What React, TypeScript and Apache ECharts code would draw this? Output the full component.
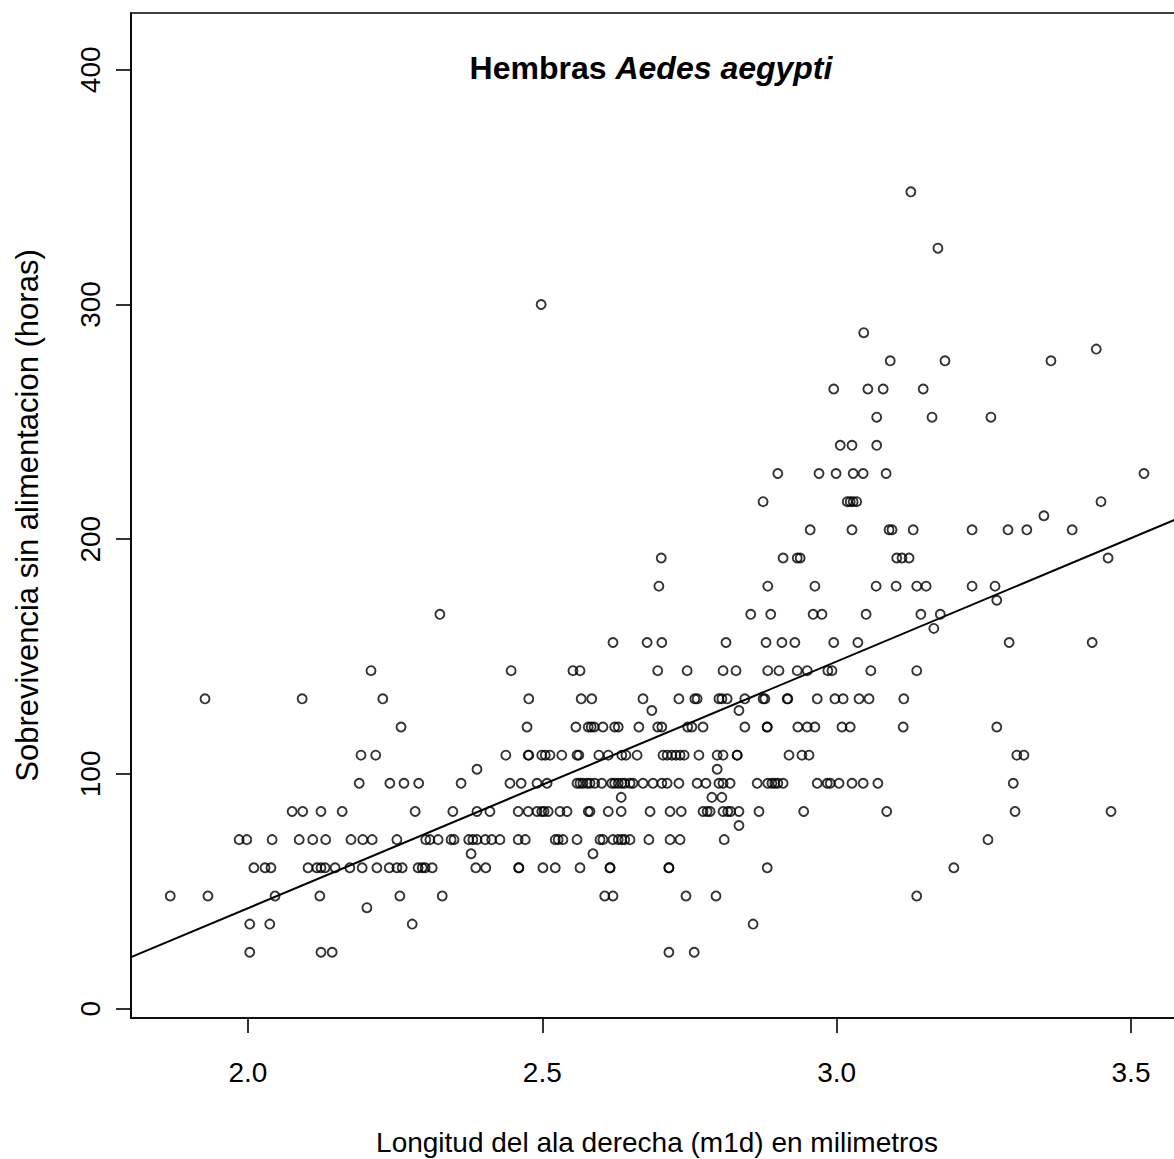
import React, { useEffect, useRef } from "react";
import * as echarts from "echarts";

// Tick labels
const xTicks = [2.0, 2.5, 3.0, 3.5];
const yTicks = [0, 100, 200, 300, 400];

// Wing length (mm) of each female, grouped by survival time without food (hours)
const wingAt24 = [2.003, 2.124, 2.143, 2.715, 2.758];
const wingAt36 = [2.003, 2.037, 2.279, 2.858];
const wingAt43 = [2.202];
const wingAt48 = [1.868, 1.932, 2.046, 2.122, 2.258, 2.33, 2.606, 2.62, 2.744, 2.795, 3.136];
const wingAt60 = [2.01, 2.029, 2.039, 2.102, 2.117, 2.124, 2.131, 2.148, 2.173, 2.194, 2.219, 2.24, 2.253, 2.262, 2.289, 2.296, 2.301, 2.313, 2.387, 2.404, 2.46, 2.46, 2.501, 2.522, 2.564, 2.615, 2.615, 2.715, 2.715, 2.882, 3.199];
const wingAt66 = [2.379, 2.586];
const wingAt72 = [1.985, 1.998, 2.041, 2.087, 2.11, 2.132, 2.175, 2.195, 2.211, 2.253, 2.302, 2.309, 2.323, 2.345, 2.35, 2.375, 2.382, 2.389, 2.403, 2.414, 2.428, 2.459, 2.471, 2.522, 2.527, 2.535, 2.559, 2.598, 2.603, 2.62, 2.629, 2.635, 2.64, 2.649, 2.681, 2.717, 2.734, 2.809, 3.257];
const wingAt78 = [2.834];
const wingAt84 = [2.075, 2.093, 2.124, 2.16, 2.284, 2.348, 2.389, 2.411, 2.459, 2.476, 2.491, 2.499, 2.503, 2.51, 2.53, 2.542, 2.578, 2.581, 2.612, 2.634, 2.683, 2.717, 2.736, 2.773, 2.78, 2.785, 2.807, 2.815, 2.82, 2.834, 2.868, 2.944, 3.085, 3.303, 3.466];
const wingAt90 = [2.634, 2.788, 2.805];
const wingAt96 = [2.189, 2.241, 2.265, 2.29, 2.362, 2.445, 2.464, 2.491, 2.508, 2.559, 2.564, 2.569, 2.576, 2.581, 2.589, 2.601, 2.618, 2.623, 2.629, 2.635, 2.64, 2.649, 2.654, 2.671, 2.688, 2.703, 2.712, 2.732, 2.763, 2.778, 2.8, 2.807, 2.819, 2.865, 2.883, 2.89, 2.895, 2.9, 2.909, 2.967, 2.984, 2.989, 3.004, 3.026, 3.045, 3.07, 3.3];
const wingAt102 = [2.389, 2.797];
const wingAt108 = [2.192, 2.217, 2.438, 2.476, 2.477, 2.499, 2.505, 2.513, 2.533, 2.559, 2.562, 2.596, 2.612, 2.635, 2.642, 2.661, 2.705, 2.712, 2.72, 2.727, 2.734, 2.741, 2.766, 2.797, 2.807, 2.831, 2.831, 2.919, 2.941, 2.953, 3.306, 3.318];
const wingAt120 = [2.26, 2.474, 2.557, 2.578, 2.583, 2.588, 2.603, 2.623, 2.629, 2.664, 2.696, 2.703, 2.747, 2.754, 2.773, 2.844, 2.882, 2.882, 2.934, 2.95, 2.963, 3.009, 3.023, 3.113, 3.272];
const wingAt127 = [2.686, 2.834];
const wingAt132 = [1.927, 2.092, 2.229, 2.477, 2.566, 2.584, 2.671, 2.732, 2.759, 2.763, 2.8, 2.805, 2.814, 2.844, 2.875, 2.878, 2.916, 2.917, 2.967, 2.997, 3.011, 3.038, 3.055, 3.114];
const wingAt144 = [2.209, 2.447, 2.552, 2.564, 2.696, 2.746, 2.807, 2.829, 2.883, 2.902, 2.933, 2.95, 2.985, 2.992, 3.058, 3.136];
const wingAt156 = [2.62, 2.678, 2.703, 2.812, 2.88, 2.907, 2.929, 2.995, 3.036, 3.293, 3.434];
const wingAt162 = [3.165];
const wingAt168 = [2.326, 2.854, 2.888, 2.96, 2.975, 3.05, 3.143, 3.176];
const wingAt174 = [3.272];
const wingAt180 = [2.698, 2.883, 2.963, 3.067, 3.101, 3.136, 3.152, 3.23, 3.269];
const wingAt192 = [2.702, 2.909, 2.933, 2.938, 3.102, 3.111, 3.123, 3.461];
const wingAt204 = [2.955, 3.026, 3.089, 3.094, 3.13, 3.23, 3.291, 3.323, 3.4];
const wingAt210 = [3.352];
const wingAt216 = [2.875, 3.018, 3.023, 3.028, 3.034, 3.449];
const wingAt228 = [2.9, 2.97, 2.999, 3.028, 3.045, 3.084, 3.522];
const wingAt240 = [3.006, 3.026, 3.068];
const wingAt252 = [3.068, 3.162, 3.262];
const wingAt264 = [2.995, 3.053, 3.079, 3.147];
const wingAt276 = [3.091, 3.184, 3.364];
const wingAt281 = [3.441];
const wingAt288 = [3.046];
const wingAt300 = [2.498];
const wingAt324 = [3.172];
const wingAt348 = [3.126];

const survivalGroups: [number, number[]][] = [
  [24, wingAt24], [36, wingAt36], [43, wingAt43], [48, wingAt48], [60, wingAt60],
  [66, wingAt66], [72, wingAt72], [78, wingAt78], [84, wingAt84], [90, wingAt90],
  [96, wingAt96], [102, wingAt102], [108, wingAt108], [120, wingAt120], [127, wingAt127],
  [132, wingAt132], [144, wingAt144], [156, wingAt156], [162, wingAt162], [168, wingAt168],
  [174, wingAt174], [180, wingAt180], [192, wingAt192], [204, wingAt204], [210, wingAt210],
  [216, wingAt216], [228, wingAt228], [240, wingAt240], [252, wingAt252], [264, wingAt264],
  [276, wingAt276], [281, wingAt281], [288, wingAt288], [300, wingAt300], [324, wingAt324],
  [348, wingAt348],
];

// Fitted regression line (hours = intercept + slope * wing length)
const fitIntercept = -167.4;
const fitSlope = 105.1;

const X_MIN = 1.8013;
const X_MAX = 3.5883;
const Y_MIN = -4.0;
const Y_MAX = 424.2;

const FONT = "'Liberation Sans', Arial, Helvetica, sans-serif";

export default function App() {
  const ref = useRef<HTMLDivElement>(null);

  useEffect(() => {
    document.body.style.margin = "0";
    if (!ref.current) return;
    const chart = echarts.init(ref.current, null, { renderer: "svg" });

    const points = survivalGroups.flatMap(([h, ws]) => ws.map((w) => [w, h]));
    const fitLine = [
      [X_MIN, fitIntercept + fitSlope * X_MIN],
      [X_MAX, fitIntercept + fitSlope * X_MAX],
    ];

    chart.setOption({
      animation: false,
      backgroundColor: "#ffffff",
      textStyle: { fontFamily: FONT },
      grid: {
        left: 131,
        top: 13,
        width: 1052,
        height: 1005,
        show: true,
        borderColor: "#000",
        borderWidth: 1.6,
        backgroundColor: "transparent",
        containLabel: false,
        outerBoundsMode: "none",
      },
      xAxis: {
        type: "value",
        min: X_MIN,
        max: X_MAX,
        axisLine: { show: true, onZero: false, lineStyle: { color: "#000", width: 1.6 } },
        axisTick: { show: true, length: 15, customValues: xTicks, lineStyle: { color: "#000", width: 1.6 } },
        axisLabel: {
          customValues: xTicks,
          formatter: (v: number) => v.toFixed(1),
          fontSize: 28,
          color: "#000",
          margin: 40,
          fontFamily: FONT,
        },
        splitLine: { show: false },
        name: "Longitud del ala derecha (m1d) en milimetros",
        nameLocation: "middle",
        nameGap: 110,
        nameTextStyle: { fontSize: 28, color: "#000", fontFamily: FONT },
      },
      yAxis: {
        type: "value",
        min: Y_MIN,
        max: Y_MAX,
        axisLine: { show: true, onZero: false, lineStyle: { color: "#000", width: 1.6 } },
        axisTick: { show: true, length: 15, customValues: yTicks, lineStyle: { color: "#000", width: 1.6 } },
        axisLabel: {
          customValues: yTicks,
          rotate: 90,
          fontSize: 28,
          color: "#000",
          margin: 27,
          fontFamily: FONT,
        },
        splitLine: { show: false },
        name: "Sobrevivencia sin alimentacion (horas)",
        nameLocation: "middle",
        nameGap: 88,
        nameTextStyle: { fontSize: 31, color: "#000", fontFamily: FONT },
      },
      graphic: [
        {
          type: "text",
          x: 651,
          y: 68,
          style: {
            text: "{a|Hembras }{b|Aedes aegypti}",
            align: "center",
            verticalAlign: "middle",
            rich: {
              a: { fontSize: 32, fontWeight: "bold", fontFamily: FONT, fill: "#000" },
              b: { fontSize: 32, fontWeight: "bold", fontStyle: "italic", fontFamily: FONT, fill: "#000" },
            },
          },
        },
      ],
      series: [
        {
          type: "scatter",
          data: points,
          symbol: "circle",
          symbolSize: 9,
          itemStyle: { color: "rgba(0,0,0,0)", borderColor: "#000", borderWidth: 1.9 },
          emphasis: { disabled: true },
          silent: true,
        },
        {
          type: "line",
          data: fitLine,
          showSymbol: false,
          symbol: "none",
          lineStyle: { color: "#000", width: 2 },
          silent: true,
          z: 3,
        },
      ],
    });

    return () => {
      chart.dispose();
    };
  }, []);

  return (
    <div style={{ width: 1174, height: 1159, overflow: "hidden", position: "relative", background: "#fff" }}>
      <div ref={ref} style={{ width: 1200, height: 1159 }} />
    </div>
  );
}
